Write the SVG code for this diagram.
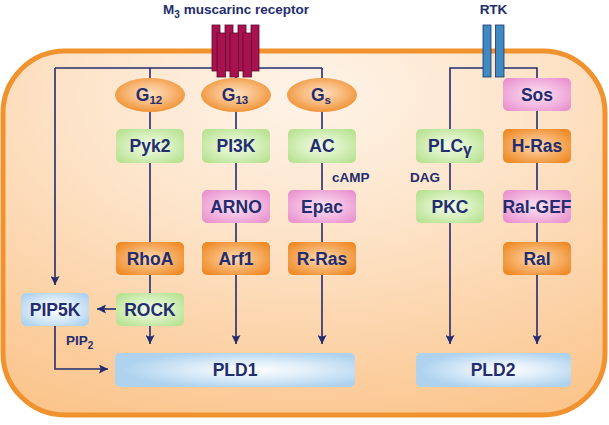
<svg xmlns="http://www.w3.org/2000/svg" width="609" height="425" viewBox="0 0 609 425">
<defs>
<radialGradient id="cellg" cx="50%" cy="12%" r="95%">
<stop offset="0" stop-color="#fef4e9"/>
<stop offset="0.4" stop-color="#fde4c9"/>
<stop offset="1" stop-color="#fbc58d"/>
</radialGradient>
<radialGradient id="gr" cx="50%" cy="50%" r="62%">
<stop offset="0" stop-color="#f1faea"/>
<stop offset="0.5" stop-color="#d8f1bf"/>
<stop offset="1" stop-color="#b9e293"/>
</radialGradient>
<radialGradient id="pk" cx="50%" cy="50%" r="62%">
<stop offset="0" stop-color="#fbe2f2"/>
<stop offset="0.5" stop-color="#f4bde3"/>
<stop offset="1" stop-color="#ea94cf"/>
</radialGradient>
<radialGradient id="or" cx="50%" cy="50%" r="62%">
<stop offset="0" stop-color="#fddcb8"/>
<stop offset="0.45" stop-color="#f8b672"/>
<stop offset="1" stop-color="#ef8a26"/>
</radialGradient>
<radialGradient id="el" cx="50%" cy="45%" r="60%">
<stop offset="0" stop-color="#fde0c0"/>
<stop offset="0.5" stop-color="#f8ba7c"/>
<stop offset="1" stop-color="#ef8c2a"/>
</radialGradient>
<radialGradient id="bl" cx="50%" cy="50%" r="62%">
<stop offset="0" stop-color="#fbfdff"/>
<stop offset="0.5" stop-color="#dcecf8"/>
<stop offset="1" stop-color="#aed2ee"/>
</radialGradient>
<radialGradient id="pld" cx="58%" cy="50%" r="55%" fx="58%" fy="50%">
<stop offset="0" stop-color="#ffffff"/>
<stop offset="0.45" stop-color="#deedf9"/>
<stop offset="1" stop-color="#afd3ef"/>
</radialGradient>
<marker id="ah" viewBox="0 0 10 10" refX="10" refY="5" markerWidth="9" markerHeight="9" markerUnits="userSpaceOnUse" orient="auto">
<path d="M0,0 L10,5 L0,10 L2,5 z" fill="#232c6e"/>
</marker>
<style>
.t{font-family:"Liberation Sans",Arial,sans-serif;font-weight:bold;fill:#232c6e;text-anchor:middle;font-size:17.5px}
.s{font-family:"Liberation Sans",Arial,sans-serif;font-weight:bold;fill:#232c6e;font-size:13.5px}
.ln{fill:none;stroke:#232c6e;stroke-width:1.6}
</style>
</defs>

<rect id="cell" x="3" y="51" width="602" height="364" rx="62" ry="62" fill="url(#cellg)" stroke="#f0922e" stroke-width="5"/>

<g id="connectors" class="ln">
<path d="M55,68 H322"/>
<path d="M55,68 V285" marker-end="url(#ah)"/>
<path d="M150,68 V78 M150,112 V129 M150,163 V242 M150,275 V293"/>
<path d="M150,326 V344" marker-end="url(#ah)"/>
<path d="M236,77 V78 M236,112 V129 M236,163 V190 M236,223 V242"/>
<path d="M236,275 V344" marker-end="url(#ah)"/>
<path d="M322,68 V78 M322,112 V129 M322,163 V190 M322,223 V242"/>
<path d="M322,275 V344" marker-end="url(#ah)"/>
<path d="M116,309 H97" marker-end="url(#ah)"/>
<path d="M55,326 V369 H108" marker-end="url(#ah)"/>
<path d="M483,68 H450 V129 M450,163 V190"/>
<path d="M450,223 V344" marker-end="url(#ah)"/>
<path d="M504,68 H537 V78 M537,111 V129 M537,163 V190 M537,223 V242"/>
<path d="M537,275 V344" marker-end="url(#ah)"/>
</g>

<g id="labels">
<text class="s" x="332" y="181.5">cAMP</text>
<text class="s" x="440" y="181.5" text-anchor="end">DAG</text>
<text class="s" x="66" y="345">PIP<tspan font-size="10" dy="4">2</tspan></text>
</g>

<g id="m3receptor">
<text class="s" x="236" y="14" text-anchor="middle" font-size="14.5">M<tspan font-size="10" dy="4">3</tspan><tspan dy="-4"> muscarinc receptor</tspan></text>
<g fill="#a8124e" stroke="#5e0a2c" stroke-width="0.8">
<rect x="212" y="25" width="8" height="46"/>
<rect x="225" y="25" width="8" height="46"/>
<rect x="238" y="25" width="8" height="46"/>
<rect x="251" y="25" width="8" height="46"/>
<rect x="217" y="33" width="8.5" height="44"/>
<rect x="230" y="33" width="8.5" height="44"/>
<rect x="243" y="33" width="8.5" height="44"/>
</g>
</g>

<g id="rtk">
<text class="s" x="493.5" y="14" text-anchor="middle" font-size="14.5">RTK</text>
<g fill="#3f8ac2" stroke="#1c3566" stroke-width="0.8">
<rect x="483" y="25" width="8" height="52"/>
<rect x="495.5" y="25" width="8.5" height="52"/>
</g>
</g>

<g id="G12"><ellipse cx="150" cy="95" rx="35" ry="17" fill="url(#el)"/><text class="t" x="149" y="101" font-size="18">G<tspan font-size="11.5" dy="3">12</tspan></text></g>
<g id="G13"><ellipse cx="236" cy="95" rx="35" ry="17" fill="url(#el)"/><text class="t" x="235" y="101" font-size="18">G<tspan font-size="11.5" dy="3">13</tspan></text></g>
<g id="Gs"><ellipse cx="322" cy="95" rx="35" ry="17" fill="url(#el)"/><text class="t" x="321" y="101" font-size="18">G<tspan font-size="11.5" dy="3">s</tspan></text></g>

<g id="Sos"><rect x="503" y="78" width="68" height="33" rx="5" fill="url(#pk)"/><text class="t" x="537" y="100.5">Sos</text></g>

<g id="Pyk2"><rect x="116" y="129" width="68" height="34" rx="5" fill="url(#gr)"/><text class="t" x="150" y="152">Pyk2</text></g>
<g id="PI3K"><rect x="202" y="129" width="68" height="34" rx="5" fill="url(#gr)"/><text class="t" x="236" y="152">PI3K</text></g>
<g id="AC"><rect x="288" y="129" width="68" height="34" rx="5" fill="url(#gr)"/><text class="t" x="322" y="152">AC</text></g>
<g id="PLCg"><rect x="416" y="129" width="68" height="34" rx="5" fill="url(#gr)"/><text class="t" x="450" y="152">PLC<tspan font-size="16" dy="3">γ</tspan></text></g>
<g id="HRas"><rect x="503" y="129" width="68" height="34" rx="5" fill="url(#or)"/><text class="t" x="537" y="152">H-Ras</text></g>

<g id="ARNO"><rect x="202" y="190" width="68" height="33" rx="5" fill="url(#pk)"/><text class="t" x="236" y="212.5">ARNO</text></g>
<g id="Epac"><rect x="288" y="190" width="68" height="33" rx="5" fill="url(#pk)"/><text class="t" x="322" y="212.5">Epac</text></g>
<g id="PKC"><rect x="416" y="190" width="68" height="33" rx="5" fill="url(#gr)"/><text class="t" x="450" y="212.5">PKC</text></g>
<g id="RalGEF"><rect x="503" y="190" width="68" height="33" rx="5" fill="url(#pk)"/><text class="t" x="537" y="212.5">Ral-GEF</text></g>

<g id="RhoA"><rect x="116" y="242" width="68" height="33" rx="5" fill="url(#or)"/><text class="t" x="150" y="264.5">RhoA</text></g>
<g id="Arf1"><rect x="202" y="242" width="68" height="33" rx="5" fill="url(#or)"/><text class="t" x="236" y="264.5">Arf1</text></g>
<g id="RRas"><rect x="288" y="242" width="68" height="33" rx="5" fill="url(#or)"/><text class="t" x="322" y="264.5">R-Ras</text></g>
<g id="Ral"><rect x="503" y="242" width="68" height="33" rx="5" fill="url(#or)"/><text class="t" x="537" y="264.5">Ral</text></g>

<g id="PIP5K"><rect x="21" y="293" width="68" height="33" rx="5" fill="url(#bl)"/><text class="t" x="55" y="315.5">PIP5K</text></g>
<g id="ROCK"><rect x="116" y="293" width="68" height="33" rx="5" fill="url(#gr)"/><text class="t" x="150" y="315.5">ROCK</text></g>

<g id="PLD1"><rect x="115" y="353" width="240" height="34" rx="5" fill="url(#pld)"/><text class="t" x="235" y="376">PLD1</text></g>
<g id="PLD2"><rect x="416" y="353" width="155" height="34" rx="5" fill="url(#pld)"/><text class="t" x="493" y="376">PLD2</text></g>
</svg>
